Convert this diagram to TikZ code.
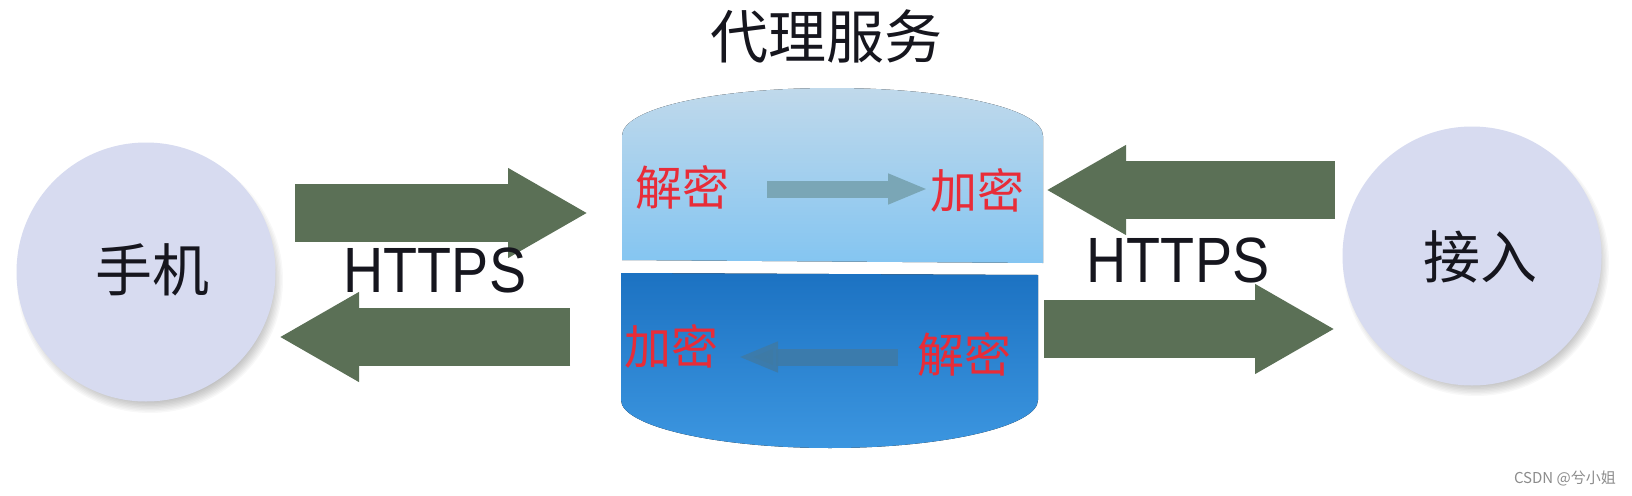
\documentclass[tikz,border=0pt]{standalone}
\usepackage{fontspec}
\setmainfont{Liberation Sans}
\newfontfamily\cjk{Noto Sans CJK SC}
\usetikzlibrary{arrows.meta}
\definecolor{arrowgreen}{RGB}{91,112,86}
\definecolor{circfill}{RGB}{215,219,240}
\definecolor{cyltopA}{RGB}{192,217,235}
\definecolor{cyltopB}{RGB}{132,197,241}
\definecolor{cylbotA}{RGB}{28,114,194}
\definecolor{cylbotB}{RGB}{60,150,224}
\definecolor{redtxt}{RGB}{232,44,56}
\definecolor{smallA}{RGB}{122,166,182}
\definecolor{smallB}{RGB}{62,122,166}
\definecolor{inkc}{RGB}{22,22,30}
\definecolor{wmark}{RGB}{140,140,140}
\tikzset{
  bigarrow/.style={draw=arrowgreen, line width=58pt, line cap=butt,
    -{Triangle[length=80pt,width=84pt]}},
  smallarrow/.style={line width=17pt, line cap=butt,
    -{Triangle[length=40pt,width=28pt]}},
  endpoint/.style={circle, fill=circfill, minimum size=259pt, inner sep=0pt},
  endlabel/.style={text=inkc, inner sep=0pt, font=\cjk\fontsize{57}{57}\selectfont},
  redlabel/.style={text=redtxt, inner sep=0pt, font=\cjk\fontsize{47}{47}\selectfont},
  proto/.style={text=inkc, inner sep=0pt, font=\fontsize{64}{64}\selectfont},
}
\begin{document}
\begin{tikzpicture}[x=1pt,y=-1pt]
\useasboundingbox (0,0) rectangle (1632,495);
\fill[white] (0,0) rectangle (1632,495);

% circle shadows
\foreach \i in {1,...,10}{
  \fill[black,opacity=0.028] (150,280) circle ({119+\i*1.4});
  \fill[black,opacity=0.028] (1476,263) circle ({119+\i*1.4});
}
\node[endpoint] (phone) at (146,272) {};
\node[endpoint] (access) at (1472,256) {};
\node[endlabel] (phonetxt) at (152,270) {手机};
\node[endlabel] (accesstxt) at (1480,257) {接入};

% proxy cylinder
\fill[top color=cyltopA, bottom color=cyltopB]
  (622,260) -- (622,136) .. controls (622,108) and (716,88) .. (832,88)
  .. controls (948,88) and (1043,108) .. (1043,136) -- (1043,263) -- cycle;
\fill[top color=cylbotA, bottom color=cylbotB]
  (621,273) -- (1038,275) -- (1038,400) .. controls (1038,426) and (945,448) .. (830,448)
  .. controls (715,448) and (621,426) .. (621,400) -- cycle;

\node[text=inkc, font=\cjk\fontsize{58}{58}\selectfont] (title) at (826,36) {代理服务};

\node[redlabel] (dec1) at (682,187) {解密};
\node[redlabel] (enc1) at (977,190) {加密};
\node[redlabel] (enc2) at (671,346) {加密};
\node[redlabel] (dec2) at (964,354) {解密};

\coordinate (s1a) at (767,189);
\coordinate (s1b) at (928,189);
\coordinate (s2a) at (898,357);
\coordinate (s2b) at (738,357);
\draw[smallarrow, draw=smallA] (s1a) -- (s1b);
\draw[smallarrow, draw=smallB, opacity=0.85] (s2a) -- (s2b);

% big arrows
\coordinate (a1s) at (295,213);
\coordinate (a1e) at (588,213);
\coordinate (a2s) at (570,337);
\coordinate (a2e) at (279,337);
\coordinate (a3s) at (1335,190);
\coordinate (a3e) at (1046,190);
\coordinate (a4s) at (1044,329);
\coordinate (a4e) at (1335,329);
\draw[bigarrow] (a1s) -- (a1e);
\draw[bigarrow] (a2s) -- (a2e);
\draw[bigarrow] (a3s) -- (a3e);
\draw[bigarrow] (a4s) -- (a4e);

\node[proto] (h1) at (435,270) {\scalebox{0.87}[1]{HTTPS}};
\node[proto] (h2) at (1178,260) {\scalebox{0.87}[1]{HTTPS}};

\node[text=wmark, inner sep=0pt, font=\cjk\fontsize{15}{15}\selectfont, anchor=east] (wm) at (1616,478) {CSDN @兮小姐};
\end{tikzpicture}
\end{document}
